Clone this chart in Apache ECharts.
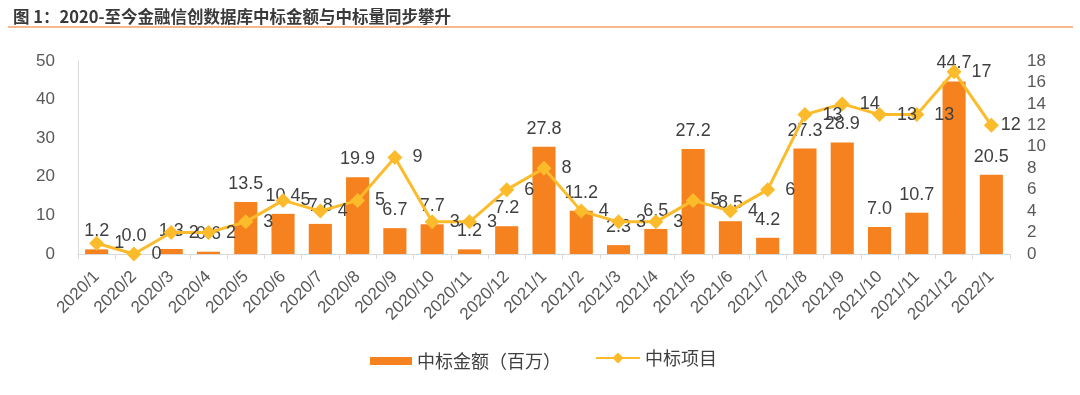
<!DOCTYPE html>
<html>
<head>
<meta charset="utf-8">
<script src="https://cdn.jsdelivr.net/npm/echarts@6/dist/echarts.min.js"></script>
<style>
html,body{margin:0;padding:0;background:#fff;}
#c{width:1080px;height:395px;}
</style>
</head>
<body>
<div id="c"></div>
<script>
const categories = ['2020/1','2020/2','2020/3','2020/4','2020/5','2020/6','2020/7','2020/8','2020/9','2020/10','2020/11','2020/12','2021/1','2021/2','2021/3','2021/4','2021/5','2021/6','2021/7','2021/8','2021/9','2021/10','2021/11','2021/12','2022/1'];
const amountValues = [1.2, 0.0, 1.3, 0.6, 13.5, 10.4, 7.8, 19.9, 6.7, 7.7, 1.2, 7.2, 27.8, 11.2, 2.3, 6.5, 27.2, 8.5, 4.2, 27.3, 28.9, 7.0, 10.7, 44.7, 20.5];
const projectCounts = [1, 0, 2, 2, 3, 5, 4, 5, 9, 3, 3, 6, 8, 4, 3, 3, 5, 4, 6, 13, 14, 13, 13, 17, 12];
const titleText = '图 1：2020-至今金融信创数据库中标金额与中标量同步攀升';
const seriesNames = ['中标金额（百万）', '中标项目'];

const chart = echarts.init(document.getElementById('c'));
const txt = '#404040';
const legendText = {fontSize: 18, color: txt, fontFamily: 'Noto Sans CJK SC'};
const lastIdx = projectCounts.length - 1;
chart.setOption({
  animation: false,
  title: {
    text: titleText,
    left: 8, top: 3,
    textStyle: {fontSize: 16.5, fontWeight: 'bold', color: '#3a3a3a', fontFamily: 'Noto Sans CJK SC'}
  },
  graphic: [{
    type: 'line',
    shape: {x1: 8, y1: 27, x2: 1073, y2: 27},
    style: {stroke: '#f3a06a', lineWidth: 1.5}
  }],
  legend: [{
    top: 347,
    left: 365,
    itemWidth: 42,
    itemHeight: 8,
    textStyle: legendText,
    data: [{name: seriesNames[0], icon: 'rect'}]
  }, {
    top: 344,
    left: 590,
    itemWidth: 44,
    itemHeight: 14,
    textStyle: legendText,
    data: [{name: seriesNames[1]}]
  }],
  grid: {left: 78, right: 70, top: 61, bottom: 141},
  xAxis: {
    type: 'category',
    data: categories,
    boundaryGap: true,
    axisLine: {lineStyle: {color: '#d9d9d9', width: 1}},
    axisTick: {show: true, length: 5, lineStyle: {color: '#d9d9d9'}},
    axisLabel: {rotate: 45, interval: 0, fontSize: 17, color: '#595959', margin: 20, fontFamily: 'Liberation Sans'}
  },
  yAxis: [{
    type: 'value', min: 0, max: 50, interval: 10,
    axisLine: {show: true, lineStyle: {color: '#d9d9d9'}},
    axisTick: {show: false},
    splitLine: {show: false},
    axisLabel: {fontSize: 17, color: '#595959', margin: 23, fontFamily: 'Liberation Sans'}
  }, {
    type: 'value', min: 0, max: 18, interval: 2,
    axisLine: {show: false},
    axisTick: {show: false},
    splitLine: {show: false},
    axisLabel: {fontSize: 17, color: '#595959', margin: 17, fontFamily: 'Liberation Sans'}
  }],
  series: [{
    name: seriesNames[0],
    type: 'bar',
    data: amountValues,
    barWidth: '62%',
    itemStyle: {color: '#f5821f'},
    label: {show: true, position: 'top', fontSize: 18, color: txt, distance: 9,
      fontFamily: 'Liberation Sans', formatter: p => p.value.toFixed(1)}
  }, {
    name: seriesNames[1],
    type: 'line',
    yAxisIndex: 1,
    data: projectCounts.map((v, i) => i === lastIdx ? {value: v, label: {distance: 2}} : v),
    symbol: 'diamond',
    symbolSize: 15,
    lineStyle: {color: '#fbbb2b', width: 3},
    itemStyle: {color: '#fbbb2b'},
    label: {show: true, position: 'right', fontSize: 18, color: txt, distance: 10, fontFamily: 'Liberation Sans'},
    z: 3
  }]
});
</script>
</body>
</html>
